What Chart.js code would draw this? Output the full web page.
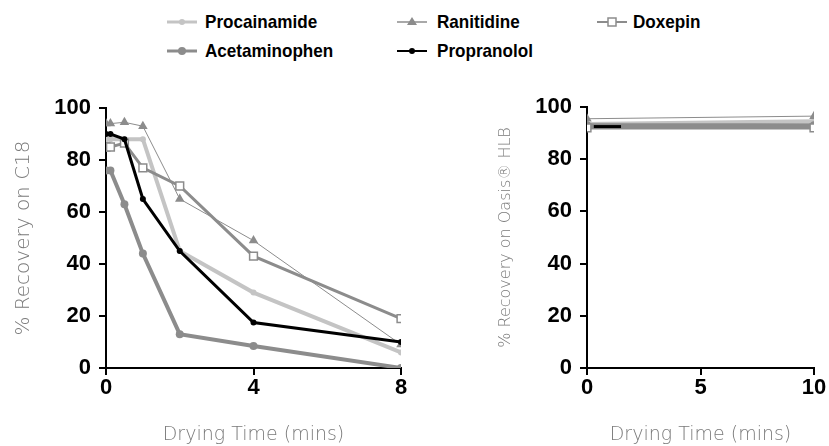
<!DOCTYPE html>
<html>
<head>
<meta charset="utf-8">
<script src="https://cdn.jsdelivr.net/npm/chart.js@4.4.1/dist/chart.umd.min.js"></script>
<style>
  body { margin: 0; background: #fff; width: 829px; height: 446px; overflow: hidden; position: relative; }
  canvas { position: absolute; top: 60px; }
  #c18Chart { left: 0; }
  #hlbChart { left: 470px; }
  .item { position: absolute; height: 20px; display: flex; align-items: center;
          font: bold 19px "Liberation Sans", sans-serif; color: #000; white-space: nowrap; }
  .item span { transform: scaleX(0.9); transform-origin: left center; }
</style>
</head>
<body>
<div id="legend"></div>
<canvas id="c18Chart" width="420" height="386"></canvas>
<canvas id="hlbChart" width="359" height="386"></canvas>
<script>
// drying times (mins) and % recovery
const dryTimes = [0, 0.12, 0.5, 1, 2, 4, 8];
const procainamideC18 = [88, 88, 88, 88, 45, 29, 6];
const acetaminophenC18 = [76, 76, 63, 44, 13, 8.5, 0];
const ranitidineC18 = [94, 94, 94.5, 93, 65, 49, 9];
const propranololC18 = [90, 90, 88, 65, 45, 17.5, 10];
const doxepinC18 = [85, 85, 86.5, 77, 70, 43, 19];

const hlbTimes = [0, 10];
const procainamideHLB = [93.5, 94.5];
const acetaminophenHLB = [93, 93];
const ranitidineHLB = [95.5, 96.5];
const doxepinHLB = [92, 92];
const hlbPropranololTimes = [0.3, 1.5];
const propranololHLB = [92.5, 92.5];

const recoveryTicks = [0, 20, 40, 60, 80, 100];
const c18TimeTicks = [0, 4, 8];
const hlbTimeTicks = [0, 5, 10];

const LIGHT = "#c4c4c4";
const MID = "#8c8c8c";

// drawing order: first entry ends up on top
const series = [
  { name: "Propranolol", c18: propranololC18, hlb: propranololHLB, hlbX: hlbPropranololTimes,
    color: "#000", width: 3, point: "circle", radius: 3, hlbRadius: 0, fill: "#000" },
  { name: "Ranitidine", c18: ranitidineC18, hlb: ranitidineHLB, hlbX: hlbTimes,
    color: MID, width: 1, point: "triangle", radius: 5.5, fill: MID },
  { name: "Doxepin", c18: doxepinC18, hlb: doxepinHLB, hlbX: hlbTimes,
    color: MID, width: 3, point: "rect", radius: 5.5, fill: "#fff" },
  { name: "Acetaminophen", c18: acetaminophenC18, hlb: acetaminophenHLB, hlbX: hlbTimes,
    color: MID, width: 4, point: "circle", radius: 4, fill: MID },
  { name: "Procainamide", c18: procainamideC18, hlb: procainamideHLB, hlbX: hlbTimes,
    color: LIGHT, width: 4, point: "circle", radius: 3, fill: LIGHT }
];

// legend slots: [name, line x, text x, row y]
const legendSlots = [
  ["Procainamide", 167, 205, 22],
  ["Acetaminophen", 167, 205, 51],
  ["Ranitidine", 397, 437, 22],
  ["Propranolol", 397, 437, 51],
  ["Doxepin", 597, 633, 22]
];

const tickFont = { family: '"Liberation Sans", sans-serif', size: 22, weight: "bold" };
const titleFont = { family: '"DejaVu Sans", sans-serif', size: 19, weight: "200" };

function markerSvg(s) {
  let m = "";
  const c = 15, y = 8;
  if (s.point === "triangle") m = `<polygon points="${c},${y - 5} ${c - 5},${y + 3} ${c + 5},${y + 3}" fill="${s.fill}"/>`;
  else if (s.point === "rect") m = `<rect x="${c - 4}" y="${y - 4}" width="8" height="8" fill="#fff" stroke="${s.color}" stroke-width="1.5"/>`;
  else m = `<circle cx="${c}" cy="${y}" r="${s.radius}" fill="${s.fill}"/>`;
  return `<svg width="30" height="16"><line x1="0" y1="${y}" x2="30" y2="${y}" stroke="${s.color}" stroke-width="${Math.max(s.width - 1, 1.5)}"/>${m}</svg>`;
}

const legend = document.getElementById("legend");
legendSlots.forEach(([name, lx, tx, y]) => {
  const s = series.find(d => d.name === name);
  const div = document.createElement("div");
  div.className = "item";
  div.style.left = lx + "px";
  div.style.top = (y - 10) + "px";
  div.innerHTML = markerSvg(s) + `<span style="position:absolute;left:${tx - lx}px">${name}</span>`;
  legend.appendChild(div);
});

function buildDatasets(key, xKey, radiusKey) {
  return series.map(s => ({
    label: s.name,
    data: s[key].map((v, i) => ({ x: (xKey ? s[xKey] : dryTimes)[i], y: v })),
    borderColor: s.color,
    borderWidth: s.width,
    pointStyle: s.point,
    pointRadius: (radiusKey && s[radiusKey] !== undefined) ? s[radiusKey] : s.radius,
    pointBackgroundColor: s.fill,
    pointBorderColor: s.color,
    pointBorderWidth: s.point === "rect" ? 1.5 : 0,
    tension: 0
  }));
}

function axes(xTicks, xMax, yTitle, yTitleSize, yPad, yWidth) {
  const axisGrid = { drawOnChartArea: false, drawTicks: true, tickLength: 7, color: "#000", lineWidth: 2 };
  return {
    x: {
      type: "linear", min: 0, max: xMax,
      afterBuildTicks: sc => { sc.ticks = xTicks.map(v => ({ value: v })); },
      afterFit: sc => { sc.height = 78; },
      grid: axisGrid,
      border: { color: "#000", width: 2 },
      ticks: { color: "#000", font: tickFont, padding: 0, maxRotation: 0 },
      title: { display: true, text: "Drying Time (mins)", color: "#7a7a7a", font: titleFont, padding: { top: 0, bottom: 0 } }
    },
    y: {
      min: 0, max: 100,
      afterBuildTicks: sc => { sc.ticks = recoveryTicks.map(v => ({ value: v })); },
      afterFit: sc => { sc.width = yWidth; },
      grid: axisGrid,
      border: { color: "#000", width: 2 },
      ticks: { color: "#000", font: tickFont, padding: 8 },
      title: { display: true, text: yTitle, color: "#7a7a7a",
               font: Object.assign({}, titleFont, { size: yTitleSize }), padding: { top: yPad, bottom: 0 } }
    }
  };
}

new Chart(document.getElementById("c18Chart"), {
  type: "line",
  data: { datasets: buildDatasets("c18") },
  options: {
    responsive: false, animation: false,
    layout: { padding: { top: 48, right: 19, left: 0, bottom: 0 } },
    plugins: { legend: { display: false }, tooltip: { enabled: false } },
    scales: axes(c18TimeTicks, 8, "% Recovery on C18", 20, 12, 106)
  }
});

new Chart(document.getElementById("hlbChart"), {
  type: "line",
  data: { datasets: buildDatasets("hlb", "hlbX", "hlbRadius") },
  options: {
    responsive: false, animation: false,
    layout: { padding: { top: 47, right: 15, left: 0, bottom: 0 } },
    plugins: { legend: { display: false }, tooltip: { enabled: false } },
    scales: axes(hlbTimeTicks, 10, "% Recovery on Oasis® HLB", 16, 26, 117)
  }
});
</script>
</body>
</html>
